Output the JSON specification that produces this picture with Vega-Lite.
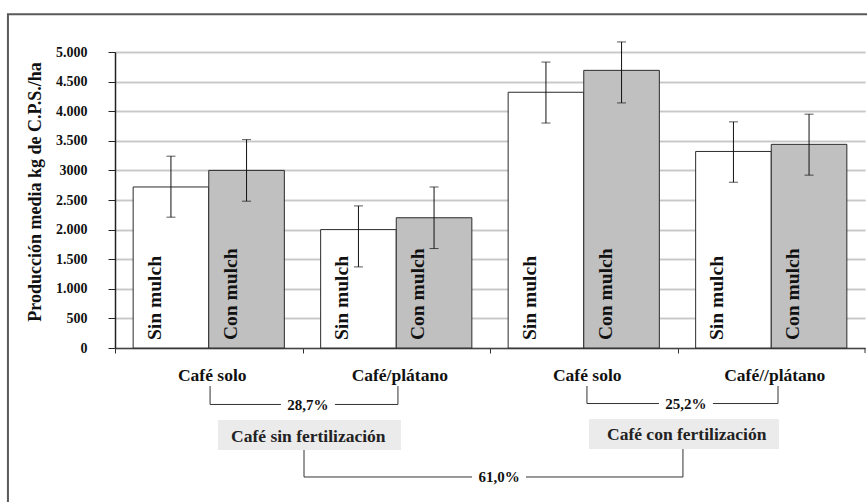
{
  "$schema": "https://vega.github.io/schema/vega-lite/v6.json",
  "width": 750,
  "height": 296,
  "autosize": {"type": "none"},
  "padding": {"left": 115, "top": 52, "right": 2, "bottom": 154},
  "background": "white",
  "config": {
    "view": {"stroke": null},
    "font": "Liberation Serif",
    "axisY": {
      "labelOverlap": false,
      "labelFont": "Liberation Serif", "labelFontWeight": "bold", "labelFontSize": 14, "labelColor": "#111111",
      "labelPadding": 21, "tickSize": 7, "tickColor": "#222222", "tickWidth": 1,
      "domainColor": "#222222", "domainWidth": 1.5,
      "gridColor": "#c8c8c8", "gridWidth": 1.5,
      "titleFont": "Liberation Serif", "titleFontSize": 18, "titleFontWeight": "bold", "titleColor": "#111111",
      "titlePadding": 11
    }
  },
  "datasets": {
    "produccion": [
      {"grupo": "Café solo (sin fertilización)", "mulch": "Sin mulch", "produccion": 2720, "inferior": 2210, "superior": 3240},
      {"grupo": "Café solo (sin fertilización)", "mulch": "Con mulch", "produccion": 3000, "inferior": 2480, "superior": 3520},
      {"grupo": "Café/plátano (sin fertilización)", "mulch": "Sin mulch", "produccion": 2000, "inferior": 1370, "superior": 2400},
      {"grupo": "Café/plátano (sin fertilización)", "mulch": "Con mulch", "produccion": 2200, "inferior": 1680, "superior": 2720},
      {"grupo": "Café solo (con fertilización)", "mulch": "Sin mulch", "produccion": 4320, "inferior": 3800, "superior": 4830},
      {"grupo": "Café solo (con fertilización)", "mulch": "Con mulch", "produccion": 4690, "inferior": 4140, "superior": 5170},
      {"grupo": "Café//plátano (con fertilización)", "mulch": "Sin mulch", "produccion": 3320, "inferior": 2800, "superior": 3820},
      {"grupo": "Café//plátano (con fertilización)", "mulch": "Con mulch", "produccion": 3440, "inferior": 2920, "superior": 3950}
    ],
    "marco": [{"x": -0.571, "x2": 4.3, "y": 5637, "y2": -3000}],
    "cajas": [
      {"x": 0.549, "x2": 1.525, "y": -1216, "y2": -1723},
      {"x": 2.528, "x2": 3.541, "y": -1199, "y2": -1706}
    ],
    "segmentos": [
      {"x": 0.507, "x2": 0.507, "y": -642, "y2": -954},
      {"x": 1.509, "x2": 1.509, "y": -642, "y2": -954},
      {"x": 0.507, "x2": 0.885, "y": -954, "y2": -954},
      {"x": 1.173, "x2": 1.509, "y": -954, "y2": -954},
      {"x": 2.517, "x2": 2.517, "y": -642, "y2": -938},
      {"x": 3.536, "x2": 3.536, "y": -642, "y2": -938},
      {"x": 2.517, "x2": 2.901, "y": -938, "y2": -938},
      {"x": 3.189, "x2": 3.536, "y": -938, "y2": -938},
      {"x": 1.008, "x2": 1.008, "y": -1723, "y2": -2179},
      {"x": 3.029, "x2": 3.029, "y": -1706, "y2": -2179},
      {"x": 1.008, "x2": 1.904, "y": -2179, "y2": -2179},
      {"x": 2.192, "x2": 3.029, "y": -2179, "y2": -2179},
      {"x": 4.0, "x2": 4.0, "y": 0, "y2": -85}
    ],
    "porcentajes": [
      {"x": 1.029, "y": -963, "texto": "28,7%"},
      {"x": 3.045, "y": -946, "texto": "25,2%"},
      {"x": 2.048, "y": -2187, "texto": "61,0%"}
    ],
    "tratamientos": [
      {"x": 1.031, "y": -1495, "texto": "Café sin fertilización"},
      {"x": 3.049, "y": -1478, "texto": "Café con fertilización"}
    ]
  },
  "resolve": {"scale": {"x": "independent", "y": "independent"}},
  "layer": [
    {
      "data": {"name": "produccion"},
      "encoding": {
        "x": {
          "field": "grupo", "type": "nominal", "sort": null,
          "scale": {"paddingInner": 0, "paddingOuter": 0},
          "axis": {
            "title": null,
            "labelExpr": "split(datum.value, ' (')[0]",
            "labelFont": "Liberation Serif", "labelFontWeight": "bold", "labelFontSize": 17.5, "labelColor": "#111111",
            "labelAngle": 0, "labelBaseline": "top", "labelPadding": 13,
            "tickOffset": -93.75, "labelOffset": 96.75,
            "tickSize": 5, "tickColor": "#333333", "tickWidth": 1,
            "domainColor": "#444444", "domainWidth": 1.5, "grid": false
          }
        },
        "xOffset": {"field": "mulch", "type": "nominal", "sort": ["Sin mulch", "Con mulch"], "scale": {"paddingInner": 0, "paddingOuter": 0.24}}
      },
      "layer": [
        {
          "mark": {"type": "bar", "stroke": "#2b2b2b", "strokeWidth": 1},
          "encoding": {
            "y": {
              "field": "produccion", "type": "quantitative",
              "scale": {"domain": [0, 5000], "nice": false},
              "axis": {"orient": "left", "grid": true, "title": "Producción media kg de C.P.S./ha", "values": [0, 500, 1000, 1500, 2000, 2500, 3000, 3500, 4000, 4500, 5000], "labelExpr": "datum.value == 3000 ? '3000' : replace(format(datum.value, ','), ',', '.')", "titleY": 139.5}
            },
            "fill": {"field": "mulch", "type": "nominal", "scale": {"domain": ["Sin mulch", "Con mulch"], "range": ["#ffffff", "#c0c0c0"]}, "legend": null}
          }
        },
        {
          "mark": {"type": "text", "angle": 270, "align": "left", "baseline": "alphabetic", "dx": 8, "dy": -10, "fontSize": 19.5, "fontWeight": "bold", "font": "Liberation Serif", "color": "#111111"},
          "encoding": {
            "y": {"datum": 0, "type": "quantitative", "axis": {"orient": "left", "grid": true, "title": "Producción media kg de C.P.S./ha", "values": [0, 500, 1000, 1500, 2000, 2500, 3000, 3500, 4000, 4500, 5000], "labelExpr": "datum.value == 3000 ? '3000' : replace(format(datum.value, ','), ',', '.')", "titleY": 139.5}},
            "text": {"field": "mulch"}
          }
        },
        {
          "mark": {"type": "rule", "color": "#111111", "strokeWidth": 1},
          "encoding": {
            "y": {"field": "inferior", "type": "quantitative", "axis": {"orient": "left", "grid": true, "title": "Producción media kg de C.P.S./ha", "values": [0, 500, 1000, 1500, 2000, 2500, 3000, 3500, 4000, 4500, 5000], "labelExpr": "datum.value == 3000 ? '3000' : replace(format(datum.value, ','), ',', '.')", "titleY": 139.5}},
            "y2": {"field": "superior"}
          }
        },
        {
          "mark": {"type": "tick", "orient": "horizontal", "size": 9, "thickness": 1, "color": "#111111"},
          "encoding": {"y": {"field": "inferior", "type": "quantitative", "axis": {"orient": "left", "grid": true, "title": "Producción media kg de C.P.S./ha", "values": [0, 500, 1000, 1500, 2000, 2500, 3000, 3500, 4000, 4500, 5000], "labelExpr": "datum.value == 3000 ? '3000' : replace(format(datum.value, ','), ',', '.')", "titleY": 139.5}}}
        },
        {
          "mark": {"type": "tick", "orient": "horizontal", "size": 9, "thickness": 1, "color": "#111111"},
          "encoding": {"y": {"field": "superior", "type": "quantitative", "axis": {"orient": "left", "grid": true, "title": "Producción media kg de C.P.S./ha", "values": [0, 500, 1000, 1500, 2000, 2500, 3000, 3500, 4000, 4500, 5000], "labelExpr": "datum.value == 3000 ? '3000' : replace(format(datum.value, ','), ',', '.')", "titleY": 139.5}}}
        }
      ]
    },
    {
      "encoding": {
        "x": {"field": "x", "type": "quantitative", "scale": {"domain": [0, 4], "nice": false, "zero": false}, "axis": {"domain": false, "ticks": false, "labels": false, "grid": false, "title": null}},
        "y": {"field": "y", "type": "quantitative", "scale": {"domain": [0, 5000], "nice": false, "zero": false}, "axis": {"orient": "right", "domain": false, "ticks": false, "labels": false, "title": null, "grid": true, "gridColor": "#c8c8c8", "gridWidth": 1.5, "values": [500, 1000, 1500, 2000, 2500, 3000, 3500, 4000, 4500, 5000]}}
      },
      "layer": [
        {
          "data": {"name": "marco"},
          "mark": {"type": "rect", "fill": null, "stroke": "#5a5a5a", "strokeWidth": 2},
          "encoding": {"x2": {"field": "x2"}, "y2": {"field": "y2"}}
        },
        {
          "data": {"name": "cajas"},
          "mark": {"type": "rect", "fill": "#ebebeb", "stroke": null},
          "encoding": {"x2": {"field": "x2"}, "y2": {"field": "y2"}}
        },
        {
          "data": {"name": "segmentos"},
          "mark": {"type": "rule", "color": "#333333", "strokeWidth": 1},
          "encoding": {"x2": {"field": "x2"}, "y2": {"field": "y2"}}
        },
        {
          "data": {"name": "porcentajes"},
          "mark": {"type": "text", "align": "center", "baseline": "middle", "fontSize": 15, "fontWeight": "bold", "font": "Liberation Serif", "color": "#111111"},
          "encoding": {"text": {"field": "texto"}}
        },
        {
          "data": {"name": "tratamientos"},
          "mark": {"type": "text", "align": "center", "baseline": "middle", "fontSize": 17.5, "fontWeight": "bold", "font": "Liberation Serif", "color": "#222222"},
          "encoding": {"text": {"field": "texto"}}
        }
      ]
    }
  ]
}
